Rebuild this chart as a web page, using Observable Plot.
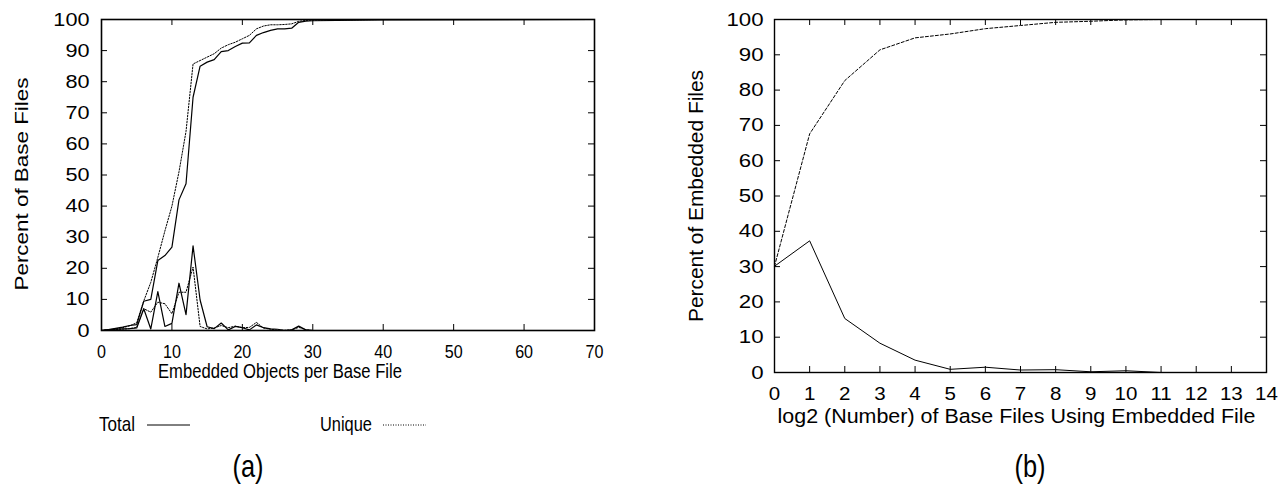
<!DOCTYPE html>
<html><head><meta charset="utf-8">
<script src="https://cdn.jsdelivr.net/npm/d3@7"></script>
<script src="https://cdn.jsdelivr.net/npm/@observablehq/plot@0.6"></script>
<style>
html,body{margin:0;padding:0;background:#fff;}
#root{position:relative;width:1288px;height:485px;overflow:hidden;font-family:"Liberation Sans",Arial,sans-serif;background:#fff;}
#root > svg{position:absolute;top:0;}
</style></head><body><div id="root"></div>
<script>
// ---------- Panel (a): Embedded objects per base file ----------
const objectsCum = [0,1,2,3,4,5,6,7,8,9,10,11,12,13,14,15,16,17,18,19,20,21,22,23,24,25,26,27,28,29,30,40,70];
const totalCumulative = [0,0.3,0.7,1.1,1.6,1.9,9.4,10.0,22.5,24.1,26.8,42.0,47.2,75.0,85.0,86.3,87.1,89.7,90.0,91.3,92.4,92.5,94.9,95.8,96.5,97.0,97.0,97.2,99.1,99.5,99.6,99.9,100];
const uniqueCumulative = [0,0.2,0.5,0.9,1.5,2.5,9.5,15.5,23.5,32.0,40.0,51.0,64.0,85.7,86.8,87.9,89.0,90.8,91.9,92.7,93.8,94.9,97.0,97.9,98.3,98.3,98.4,98.6,99.4,99.7,99.8,100,100];
const objectsDist = [0,1,2,3,4,5,6,7,8,9,10,11,12,13,14,15,16,17,18,19,20,21,22,23,24,25,26,27,28,29,30];
const totalPercent = [0,0.3,0.4,0.5,0.6,0.8,7.0,0.5,12.5,1.3,2.3,15.2,5.1,27.2,9.8,1.2,0.6,2.4,0.2,1.3,0.9,0.2,1.8,0.9,0.5,0.4,0,0.2,1.4,0.2,0];
const uniquePercent = [0,0.2,0.3,0.4,0.6,1.0,7.0,5.9,9.1,8.6,5.4,12.3,12.3,20.4,1.3,0.5,0.8,1.6,0.9,1.4,0.9,1.0,2.6,0.8,0.4,0.1,0.1,0.2,1.0,0.3,0];
const xTicksA = [0,10,20,30,40,50,60,70];
const yTicks = [0,10,20,30,40,50,60,70,80,90,100];
const legendLabels = ["Total","Unique"];

// ---------- Panel (b): log2 number of base files using embedded file ----------
const log2Users = [0,1,2,3,4,5,6,7,8,9,10,11,12];
const embeddedPercent = [30.1,37.3,15.3,8.3,3.5,0.9,1.5,0.7,0.8,0.2,0.5,0.0,0.0];
const embeddedCumulative = [30.1,67.6,82.7,91.4,94.8,95.9,97.4,98.3,99.2,99.5,99.9,100,100];
const xTicksB = [0,1,2,3,4,5,6,7,8,9,10,11,12,13,14];

const FONT = '"Liberation Sans", Arial, sans-serif';
const root = document.getElementById("root");

const cumRows = objectsCum.map((x,i)=>({x, total: totalCumulative[i], unique: uniqueCumulative[i]}));
const distRows = objectsDist.map((x,i)=>({x, total: totalPercent[i], unique: uniquePercent[i]}));

const WA=640, HA=385, mA={top:19,right:46,bottom:55,left:101};
const iwA = WA-mA.left-mA.right, ihA = HA-mA.top-mA.bottom;
const TL = 6;

const plotA = Plot.plot({
  width: WA, height: HA,
  marginTop: mA.top, marginRight: mA.right, marginBottom: mA.bottom, marginLeft: mA.left,
  x: {domain: [0,70]}, y: {domain: [0,100]},
  style: {fontFamily: FONT, fontSize: "18.5px", color: "#000", background: "transparent", overflow: "visible"},
  marks: [
    Plot.tickX(xTicksA, {x: d=>d, insetTop: ihA-TL, stroke: "#000"}),
    Plot.tickX(xTicksA, {x: d=>d, insetBottom: ihA-TL, stroke: "#000"}),
    Plot.tickY(yTicks, {y: d=>d, insetRight: iwA-TL, stroke: "#000"}),
    Plot.tickY(yTicks, {y: d=>d, insetLeft: iwA-TL, stroke: "#000"}),
    Plot.line(distRows, {x: "x", y: "unique", stroke: "#000", strokeWidth: 1, strokeDasharray: "1.5,1.5"}),
    Plot.line(cumRows, {x: "x", y: "unique", stroke: "#000", strokeWidth: 1, strokeDasharray: "1.5,1.5"}),
    Plot.line(distRows, {x: "x", y: "total", stroke: "#000", strokeWidth: 1.2}),
    Plot.line(cumRows, {x: "x", y: "total", stroke: "#000", strokeWidth: 1.2}),
    Plot.frame({stroke: "#000", strokeWidth: 1.6}),
    Plot.axisX({ticks: xTicksA, tickSize: 0, tickPadding: 14, label: null, fontSize: 18.5}),
    Plot.axisY({ticks: yTicks, tickSize: 0, tickPadding: 12, label: null, fontSize: 19}),
    Plot.text(["Embedded Objects per Base File"], {text: d=>d, frameAnchor: "bottom", textAnchor: "middle", dx: -68, dy: 47, fontSize: 19.5}),
    Plot.text(["Percent of Base Files"], {text: d=>d, frameAnchor: "left", textAnchor: "middle", rotate: -90, dx: -79, dy: 9, fontSize: 18.5})
  ]
});
plotA.style.left = "0px";
root.appendChild(plotA);

const bRows = log2Users.map((x,i)=>({x, pct: embeddedPercent[i], cum: embeddedCumulative[i]}));
const WB=644, HB=440, mB={top:19,right:22,bottom:68,left:130};
const iwB = WB-mB.left-mB.right, ihB = HB-mB.top-mB.bottom;

const plotB = Plot.plot({
  width: WB, height: HB,
  marginTop: mB.top, marginRight: mB.right, marginBottom: mB.bottom, marginLeft: mB.left,
  x: {domain: [0,14]}, y: {domain: [0,100]},
  style: {fontFamily: FONT, fontSize: "19px", color: "#000", background: "transparent", overflow: "visible"},
  marks: [
    Plot.tickX(xTicksB, {x: d=>d, insetTop: ihB-TL, stroke: "#000"}),
    Plot.tickX(xTicksB, {x: d=>d, insetBottom: ihB-TL, stroke: "#000"}),
    Plot.tickY(yTicks, {y: d=>d, insetRight: iwB-TL, stroke: "#000"}),
    Plot.tickY(yTicks, {y: d=>d, insetLeft: iwB-TL, stroke: "#000"}),
    Plot.line(bRows, {x: "x", y: "cum", stroke: "#000", strokeWidth: 1, strokeDasharray: "3,2"}),
    Plot.line(bRows, {x: "x", y: "pct", stroke: "#000", strokeWidth: 1}),
    Plot.frame({stroke: "#000", strokeWidth: 1.4}),
    Plot.axisX({ticks: xTicksB, tickSize: 0, tickPadding: 14, label: null, fontSize: 19}),
    Plot.axisY({ticks: yTicks, tickSize: 0, tickPadding: 11, label: null, fontSize: 19}),
    Plot.text(["log2 (Number) of Base Files Using Embedded File"], {text: d=>d, frameAnchor: "bottom", textAnchor: "middle", dx: -4, dy: 50, fontSize: 20.5}),
    Plot.text(["Percent of Embedded Files"], {text: d=>d, frameAnchor: "left", textAnchor: "middle", rotate: -90, dx: -78, dy: 0, fontSize: 21})
  ]
});
plotB.style.left = "644px";
root.appendChild(plotB);

function fit(svg, targets, factors) {
  svg.querySelectorAll("text").forEach(t => {
    const s = t.textContent;
    const len = t.getComputedTextLength();
    const g = t.closest("g[aria-label]");
    const role = g ? g.getAttribute("aria-label") : "";
    let target = len;
    if (s in targets) target = targets[s];
    else if (role.startsWith("x-axis")) target = len * factors.x;
    else if (role.startsWith("y-axis")) target = len * factors.y;
    if (Math.abs(target - len) > 0.3) {
      t.setAttribute("textLength", target);
      t.setAttribute("lengthAdjust", "spacingAndGlyphs");
    }
  });
}
fit(plotA, {"Percent of Base Files": 213, "Embedded Objects per Base File": 244}, {x: 0.87, y: 1.14});
fit(plotB, {"log2 (Number) of Base Files Using Embedded File": 478, "Percent of Embedded Files": 252}, {x: 1.08, y: 1.17});

// legend and captions
const NS = "http://www.w3.org/2000/svg";
const ov = document.createElementNS(NS, "svg");
ov.setAttribute("width", 1288); ov.setAttribute("height", 485);
ov.style.left = "0px"; ov.style.fontFamily = FONT;
root.appendChild(ov);
function addText(str, x, y, size, anchor, target) {
  const t = document.createElementNS(NS, "text");
  t.textContent = str; t.setAttribute("x", x); t.setAttribute("y", y);
  t.setAttribute("font-size", size); t.setAttribute("text-anchor", anchor);
  ov.appendChild(t);
  if (target) { t.setAttribute("textLength", target); t.setAttribute("lengthAdjust", "spacingAndGlyphs"); }
  return t;
}
function addLine(x1, x2, y, dash) {
  const l = document.createElementNS(NS, "line");
  l.setAttribute("x1", x1); l.setAttribute("x2", x2); l.setAttribute("y1", y); l.setAttribute("y2", y);
  l.setAttribute("stroke", "#000"); l.setAttribute("stroke-width", 1);
  if (dash) l.setAttribute("stroke-dasharray", dash);
  ov.appendChild(l);
}
addText(legendLabels[0], 135, 431, 21, "end", 36);
addLine(147, 190, 425, null);
addText(legendLabels[1], 372, 431, 21, "end", 52);
addLine(383, 426, 425, "1,1.5");
addText("(a)", 248, 477, 32, "middle", 31);
addText("(b)", 1030, 477, 32, "middle", 31);
</script>
</body></html>
